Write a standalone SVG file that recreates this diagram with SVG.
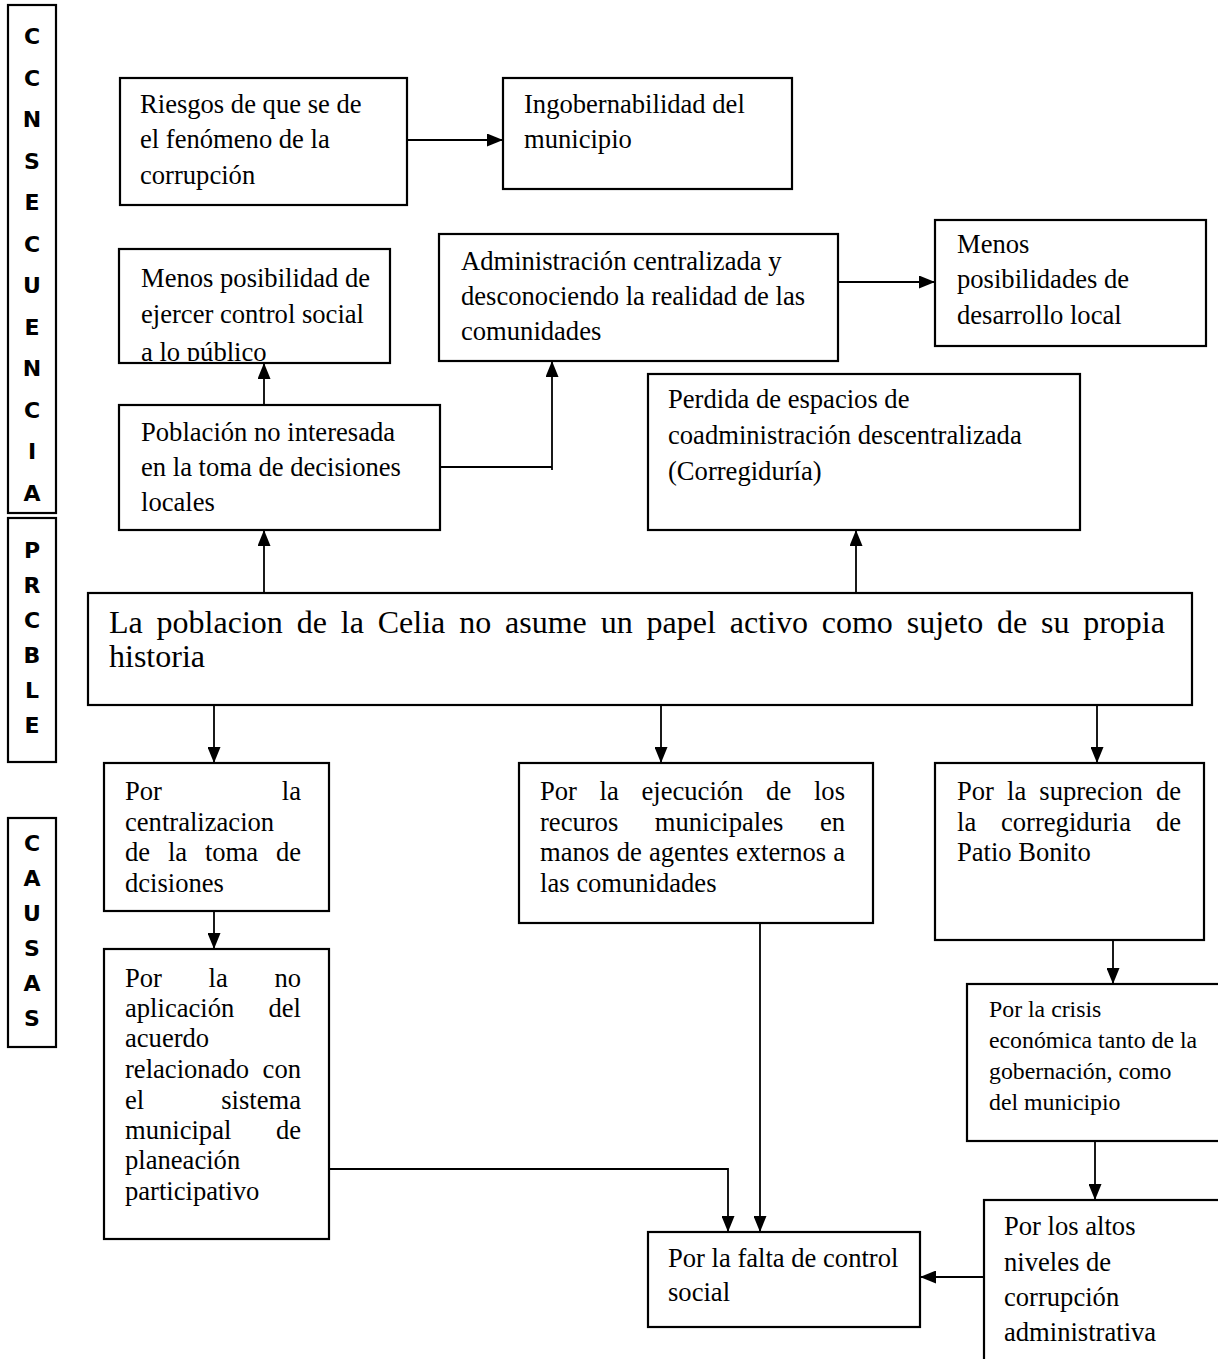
<svg xmlns="http://www.w3.org/2000/svg" width="1218" height="1359" viewBox="0 0 1218 1359">
<style>
.box{fill:#fff;stroke:#000;stroke-width:2.2}
.t{font-family:"Liberation Serif","Times New Roman",serif;font-size:26.6px;fill:#000}
.ts{font-family:"Liberation Serif","Times New Roman",serif;font-size:23.8px;fill:#000}
.tb{font-family:"Liberation Serif","Times New Roman",serif;font-size:32px;fill:#000}
.side{font-family:"DejaVu Sans","Liberation Sans",sans-serif;font-weight:bold;font-size:22px;fill:#000;text-anchor:middle}
.c{stroke:#000;stroke-width:1.8;fill:none}
.a{marker-end:url(#arr)}
</style>
<defs>
<marker id="arr" markerUnits="userSpaceOnUse" viewBox="0 0 16 13" markerWidth="16" markerHeight="13" refX="16" refY="6.5" orient="auto">
<path d="M0,0 L16,6.5 L0,13 z" fill="#000"/>
</marker>
<clipPath id="clipMP"><rect x="119" y="249" width="271" height="112"/></clipPath>
</defs>
<rect width="1218" height="1359" fill="#fff"/>

<g id="side-consecuencia">
<rect class="box" x="8" y="5" width="48" height="508"/>
<text class="side" x="32" y="44">C</text>
<text class="side" x="32" y="85.5">C</text>
<text class="side" x="32" y="127">N</text>
<text class="side" x="32" y="168.5">S</text>
<text class="side" x="32" y="210">E</text>
<text class="side" x="32" y="251.5">C</text>
<text class="side" x="32" y="293">U</text>
<text class="side" x="32" y="334.5">E</text>
<text class="side" x="32" y="376">N</text>
<text class="side" x="32" y="417.5">C</text>
<text class="side" x="32" y="459">I</text>
<text class="side" x="32" y="500.5">A</text>
</g>
<g id="side-problema">
<rect class="box" x="8" y="518" width="48" height="244"/>
<text class="side" x="32" y="558">P</text>
<text class="side" x="32" y="593">R</text>
<text class="side" x="32" y="628">C</text>
<text class="side" x="32" y="663">B</text>
<text class="side" x="32" y="698">L</text>
<text class="side" x="32" y="733">E</text>
</g>
<g id="side-causas">
<rect class="box" x="8" y="818" width="48" height="229"/>
<text class="side" x="32" y="851">C</text>
<text class="side" x="32" y="886">A</text>
<text class="side" x="32" y="921">U</text>
<text class="side" x="32" y="956">S</text>
<text class="side" x="32" y="991">A</text>
<text class="side" x="32" y="1026">S</text>
</g>

<g id="connectors">
<path class="c a" d="M407,140 H503"/>
<path class="c a" d="M838,282 H935"/>
<path class="c a" d="M264,405 V363"/>
<path class="c" d="M440,467 H552"/>
<path class="c a" d="M552,470 V361"/>
<path class="c a" d="M264,593 V530"/>
<path class="c a" d="M856,593 V530"/>
<path class="c a" d="M214,705 V763"/>
<path class="c a" d="M661,705 V763"/>
<path class="c a" d="M1097,705 V763"/>
<path class="c a" d="M214,911 V949"/>
<path class="c a" d="M1113,940 V984"/>
<path class="c a" d="M1095,1141 V1200"/>
<path class="c a" d="M329,1169 H728 V1232"/>
<path class="c a" d="M760,923 V1232"/>
<path class="c a" d="M984,1277 H920"/>
</g>

<g id="riesgos">
<rect class="box" x="120" y="78" width="287" height="127"/>
<text class="t" x="140" y="113">Riesgos de que se de</text>
<text class="t" x="140" y="148">el fenómeno de la</text>
<text class="t" x="140" y="184">corrupción</text>
</g>
<g id="ingobernabilidad">
<rect class="box" x="503" y="78" width="289" height="111"/>
<text class="t" x="524" y="113">Ingobernabilidad del</text>
<text class="t" x="524" y="148">municipio</text>
</g>
<g id="menos-posibilidad">
<rect class="box" x="119" y="249" width="271" height="114"/>
<g clip-path="url(#clipMP)">
<text class="t" x="141" y="287">Menos posibilidad de</text>
<text class="t" x="141" y="323">ejercer control social</text>
<text class="t" x="141" y="361">a lo público</text>
</g>
</g>
<g id="administracion">
<rect class="box" x="439" y="234" width="399" height="127"/>
<text class="t" x="461" y="270">Administración centralizada y</text>
<text class="t" x="461" y="305">desconociendo la realidad de las</text>
<text class="t" x="461" y="340">comunidades</text>
</g>
<g id="menos-posibilidades">
<rect class="box" x="935" y="220" width="271" height="126"/>
<text class="t" x="957" y="253">Menos</text>
<text class="t" x="957" y="288">posibilidades de</text>
<text class="t" x="957" y="324">desarrollo local</text>
</g>
<g id="poblacion">
<rect class="box" x="119" y="405" width="321" height="125"/>
<text class="t" x="141" y="441">Población no interesada</text>
<text class="t" x="141" y="476">en la toma de decisiones</text>
<text class="t" x="141" y="511">locales</text>
</g>
<g id="perdida">
<rect class="box" x="648" y="374" width="432" height="156"/>
<text class="t" x="668" y="408">Perdida de espacios de</text>
<text class="t" x="668" y="444">coadministración descentralizada</text>
<text class="t" x="668" y="480">(Corregiduría)</text>
</g>
<g id="problema">
<rect class="box" x="88" y="593" width="1104" height="112"/>
<text class="tb" y="633"><tspan x="109">La</tspan><tspan x="156.6">poblacion</tspan><tspan x="296.7">de</tspan><tspan x="340.8">la</tspan><tspan x="377.7">Celia</tspan><tspan x="459.2">no</tspan><tspan x="505">asume</tspan><tspan x="600.7">un</tspan><tspan x="646.5">papel</tspan><tspan x="729.7">activo</tspan><tspan x="821.7">como</tspan><tspan x="906.7">sujeto</tspan><tspan x="996.9">de</tspan><tspan x="1041">su</tspan><tspan x="1083.2">propia</tspan></text>
<text class="tb" x="109" y="667">historia</text>
</g>
<g id="centralizacion">
<rect class="box" x="104" y="763" width="225" height="148"/>
<text class="t" y="800"><tspan x="125">Por</tspan><tspan x="301" text-anchor="end">la</tspan></text>
<text class="t" x="125" y="831">centralizacion</text>
<text class="t" y="861"><tspan x="125">de</tspan><tspan x="167.9">la</tspan><tspan x="204.9">toma</tspan><tspan x="301" text-anchor="end">de</tspan></text>
<text class="t" x="125" y="892">dcisiones</text>
</g>
<g id="ejecucion">
<rect class="box" x="519" y="763" width="354" height="160"/>
<text class="t" y="800"><tspan x="540">Por</tspan><tspan x="599.6">la</tspan><tspan x="641.5">ejecución</tspan><tspan x="766.1">de</tspan><tspan x="845" text-anchor="end">los</tspan></text>
<text class="t" y="831"><tspan x="540">recuros</tspan><tspan x="654.8">municipales</tspan><tspan x="845" text-anchor="end">en</tspan></text>
<text class="t" y="861"><tspan x="540">manos</tspan><tspan x="616.7">de</tspan><tspan x="649">agentes</tspan><tspan x="736">externos</tspan><tspan x="845" text-anchor="end">a</tspan></text>
<text class="t" x="540" y="892">las comunidades</text>
</g>
<g id="suprecion">
<rect class="box" x="935" y="763" width="269" height="177"/>
<text class="t" y="800"><tspan x="957">Por</tspan><tspan x="1007">la</tspan><tspan x="1039.3">suprecion</tspan><tspan x="1181" text-anchor="end">de</tspan></text>
<text class="t" y="831"><tspan x="957">la</tspan><tspan x="1001">corregiduria</tspan><tspan x="1181" text-anchor="end">de</tspan></text>
<text class="t" x="957" y="861">Patio Bonito</text>
</g>
<g id="no-aplicacion">
<rect class="box" x="104" y="949" width="225" height="290"/>
<text class="t" y="987"><tspan x="125">Por</tspan><tspan x="208.5">la</tspan><tspan x="301" text-anchor="end">no</tspan></text>
<text class="t" y="1017"><tspan x="125">aplicación</tspan><tspan x="301" text-anchor="end">del</tspan></text>
<text class="t" x="125" y="1047">acuerdo</text>
<text class="t" y="1078"><tspan x="125">relacionado</tspan><tspan x="301" text-anchor="end">con</tspan></text>
<text class="t" y="1109"><tspan x="125">el</tspan><tspan x="301" text-anchor="end">sistema</tspan></text>
<text class="t" y="1139"><tspan x="125">municipal</tspan><tspan x="301" text-anchor="end">de</tspan></text>
<text class="t" x="125" y="1169">planeación</text>
<text class="t" x="125" y="1200">participativo</text>
</g>
<g id="crisis">
<rect class="box" x="967" y="984" width="260" height="157"/>
<text class="ts" x="989" y="1017">Por la crisis</text>
<text class="ts" x="989" y="1048">económica tanto de la</text>
<text class="ts" x="989" y="1079">gobernación, como</text>
<text class="ts" x="989" y="1110">del municipio</text>
</g>
<g id="altos">
<rect class="box" x="984" y="1200" width="250" height="170"/>
<text class="t" x="1004" y="1235">Por los altos</text>
<text class="t" x="1004" y="1271">niveles de</text>
<text class="t" x="1004" y="1306">corrupción</text>
<text class="t" x="1004" y="1341">administrativa</text>
</g>
<g id="falta">
<rect class="box" x="648" y="1232" width="272" height="95"/>
<text class="t" x="668" y="1267">Por la falta de control</text>
<text class="t" x="668" y="1301">social</text>
</g>
</svg>
